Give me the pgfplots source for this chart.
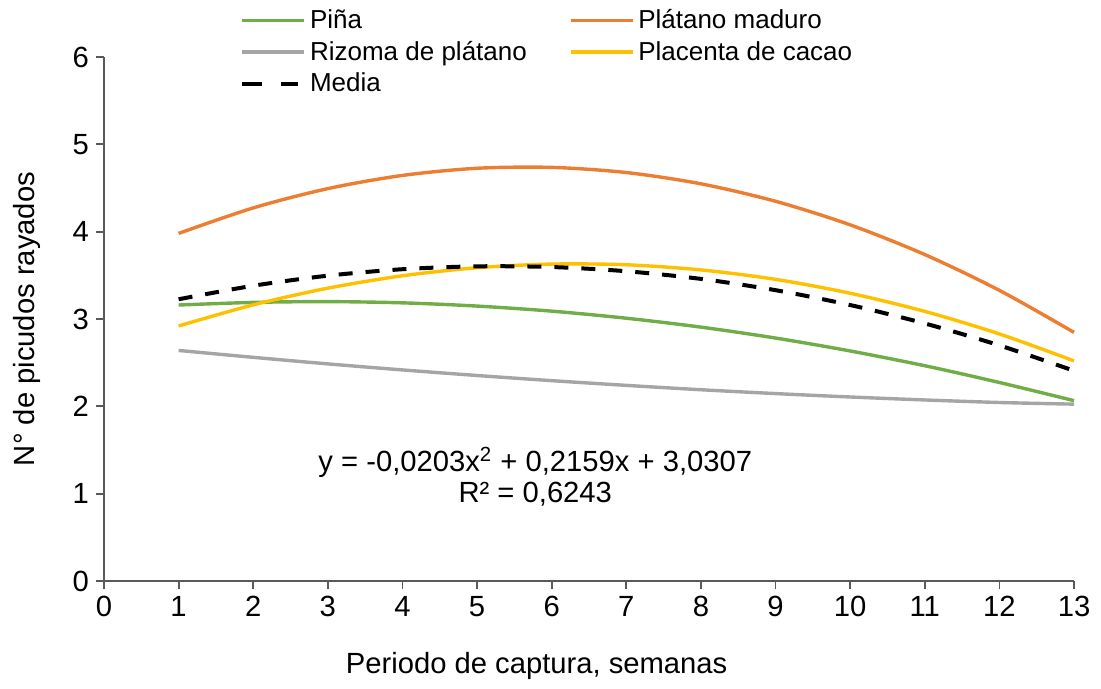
\documentclass[border=0pt]{standalone}
\usepackage{fontspec}
\setmainfont{Liberation Sans}
\usepackage{pgfplots}
\pgfplotsset{compat=1.18}
\definecolor{cgreen}{HTML}{70AD47}
\definecolor{corange}{HTML}{ED7D31}
\definecolor{cgray}{HTML}{A5A5A5}
\definecolor{cyellow}{HTML}{FFC000}
\definecolor{axisgray}{HTML}{595959}
\begin{document}
\begin{tikzpicture}[font=\fontsize{14.6}{17.5}\selectfont]
\path[use as bounding box] (-52pt,-54pt) rectangle (498.5pt,290.5pt);
\begin{axis}[
  scale only axis, width=485pt, height=262pt,
  xmin=0, xmax=13, ymin=0, ymax=6,
  xtick={0,1,...,13}, ytick={0,1,...,6},
  axis x line=bottom, axis y line=left,
  every outer x axis line/.append style={-},
  every outer y axis line/.append style={-},
  axis line style={draw=axisgray, line width=0.9pt, -},
  tick style={draw=axisgray, line width=0.9pt},
  tick align=outside, major tick length=4pt,
  /pgf/number format/assume math mode=true,
  xlabel={Periodo de captura, semanas},
  ylabel={N° de picudos rayados},
  xlabel style={at={(axis description cs:0.446,-0.163)}, anchor=center},
  ylabel style={at={(axis description cs:-0.0790,0.5)}, anchor=center},
  legend columns=2,
  legend cell align=left,
  legend style={at={(rel axis cs:0.134,1.107)}, anchor=north west, draw=none, fill=none,
    font=\fontsize{13}{15.6}\selectfont, row sep=0.8pt,
    /tikz/every even column/.append style={column sep=19pt}},
  legend image code/.code={\draw[#1] (0pt,0pt) -- (31pt,0pt);},
  clip=false,
]
\addplot[cgreen, line width=1.7pt, smooth] coordinates {
 (1,3.160) (2,3.190) (3,3.199) (4,3.185) (5,3.148) (6,3.090) (7,3.009)
 (8,2.907) (9,2.782) (10,2.634) (11,2.465) (12,2.273) (13,2.065)};
\addlegendentry{Piña}
\addplot[corange, line width=1.7pt, smooth] coordinates {
 (1,3.980) (2,4.272) (3,4.493) (4,4.644) (5,4.726) (6,4.736) (7,4.677)
 (8,4.548) (9,4.348) (10,4.078) (11,3.738) (12,3.328) (13,2.847)};
\addlegendentry{Plátano maduro}
\addplot[cgray, line width=1.7pt, smooth] coordinates {
 (1,2.640) (2,2.561) (3,2.486) (4,2.417) (5,2.353) (6,2.294) (7,2.240)
 (8,2.190) (9,2.146) (10,2.107) (11,2.073) (12,2.044) (13,2.025)};
\addlegendentry{Rizoma de plátano}
\addplot[cyellow, line width=1.7pt, smooth] coordinates {
 (1,2.920) (2,3.162) (3,3.353) (4,3.495) (5,3.587) (6,3.629) (7,3.621)
 (8,3.562) (9,3.454) (10,3.295) (11,3.087) (12,2.829) (13,2.520)};
\addlegendentry{Placenta de cacao}
\addplot[black, line width=2pt, dash pattern=on 7pt off 6.5pt, smooth,
  legend image code/.code={\draw[black, line width=2pt, solid] (0pt,0pt) -- (10pt,0pt) (19.5pt,0pt) -- (28pt,0pt);}] coordinates {
 (1,3.226) (2,3.381) (3,3.496) (4,3.570) (5,3.603) (6,3.595) (7,3.547)
 (8,3.459) (9,3.330) (10,3.160) (11,2.949) (12,2.698) (13,2.407)};
\addlegendentry{Media}
\node at (axis cs:5.78,1.36) {y = -0,0203x\textsuperscript{2} + 0,2159x + 3,0307};
\node at (axis cs:5.78,0.99) {R² = 0,6243};
\end{axis}
\end{tikzpicture}
\end{document}
